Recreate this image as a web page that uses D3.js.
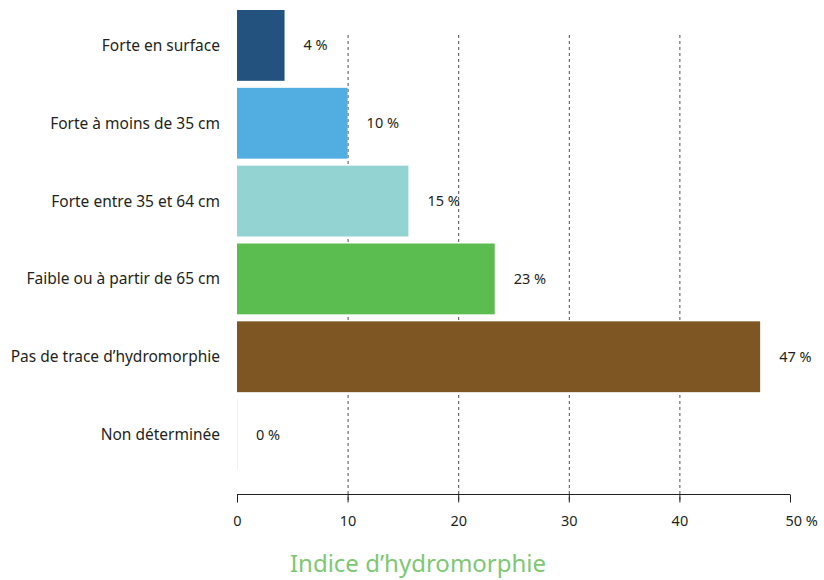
<!DOCTYPE html>
<html>
<head>
<meta charset="utf-8">
<script src="https://cdn.jsdelivr.net/npm/d3@7"></script>
<style>
  body { margin: 0; background: #fff; }
  text { font-family: "Noto Sans", "Open Sans", sans-serif; fill: #231f20; }
</style>
</head>
<body>
<div id="chart"></div>
<script>
var categories = ["Forte en surface", "Forte à moins de 35 cm", "Forte entre 35 et 64 cm",
  "Faible ou à partir de 65 cm", "Pas de trace d\u2019hydromorphie", "Non déterminée"];
var values = [4.3, 10, 15.5, 23.3, 47.3, 0];
var valueLabels = ["4 %", "10 %", "15 %", "23 %", "47 %", "0 %"];
var colors = ["#23527f", "#52aee0", "#93d3d2", "#5bbc50", "#7e5623", "#e6e6e6"];
var ticks = [0, 10, 20, 30, 40, 50];
var tickLabels = ["0", "10", "20", "30", "40", "50 %"];

var width = 824, height = 580;
var svg = d3.select("#chart").append("svg")
  .attr("width", width)
  .attr("height", height);

var x = d3.scaleLinear().domain([0, 50]).range([237, 790]);
var y = d3.scaleBand().domain(categories).range([10, 470]).paddingInner(0.09).paddingOuter(0);
var axisY = 494;

// dashed grid lines
svg.selectAll(".grid")
  .data(ticks.slice(1, -1))
  .enter()
  .append("line")
  .attr("x1", function(d) { return x(d) + 0.5; })
  .attr("x2", function(d) { return x(d) + 0.5; })
  .attr("y1", 35)
  .attr("y2", axisY + 8)
  .attr("stroke", "#4d4d4d")
  .attr("stroke-width", 1)
  .attr("stroke-dasharray", "3,3");

// bars
svg.selectAll(".bar")
  .data(values)
  .enter()
  .append("rect")
  .attr("x", x(0))
  .attr("y", function(d, i) { return y(categories[i]); })
  .attr("width", function(d) { return Math.max(x(d) - x(0), 0.6); })
  .attr("height", y.bandwidth())
  .attr("fill", function(d, i) { return colors[i]; });

// value labels
svg.selectAll(".val")
  .data(values)
  .enter()
  .append("text")
  .attr("x", function(d) { return x(d) + 19; })
  .attr("y", function(d, i) { return y(categories[i]) + y.bandwidth() / 2; })
  .attr("dy", "0.35em")
  .attr("font-size", 14.5)
  .text(function(d, i) { return valueLabels[i]; });

// category labels
svg.selectAll(".cat")
  .data(categories)
  .enter()
  .append("text")
  .attr("x", 220)
  .attr("y", function(d) { return y(d) + y.bandwidth() / 2; })
  .attr("dy", "0.35em")
  .attr("text-anchor", "end")
  .attr("font-size", 15.5)
  .text(function(d) { return d; });

// x axis
var axis = d3.axisBottom(x)
  .tickValues(ticks)
  .tickSize(8)
  .tickPadding(13)
  .tickFormat(function(d, i) { return tickLabels[i]; });

var gx = svg.append("g")
  .attr("transform", "translate(0," + (axisY + 0.5) + ")")
  .call(axis);
gx.select(".domain").attr("stroke", "#231f20").attr("d", "M" + x(0) + ",0H" + x(50));
gx.selectAll(".tick line").attr("stroke", "#231f20");
gx.selectAll(".tick text")
  .attr("font-size", 14.5)
  .attr("font-family", "Noto Sans, Open Sans, sans-serif")
  .attr("fill", "#231f20")
  .attr("text-anchor", function(d) { return d === 50 ? "start" : "middle"; })
  .attr("dx", function(d) { return d === 50 ? -5 : 0; });

// axis title
svg.append("text")
  .attr("x", 418)
  .attr("y", 564)
  .attr("dy", "0.35em")
  .attr("text-anchor", "middle")
  .attr("font-size", 24)
  .style("fill", "#7dc873")
  .text("Indice d\u2019hydromorphie");
</script>
</body>
</html>
